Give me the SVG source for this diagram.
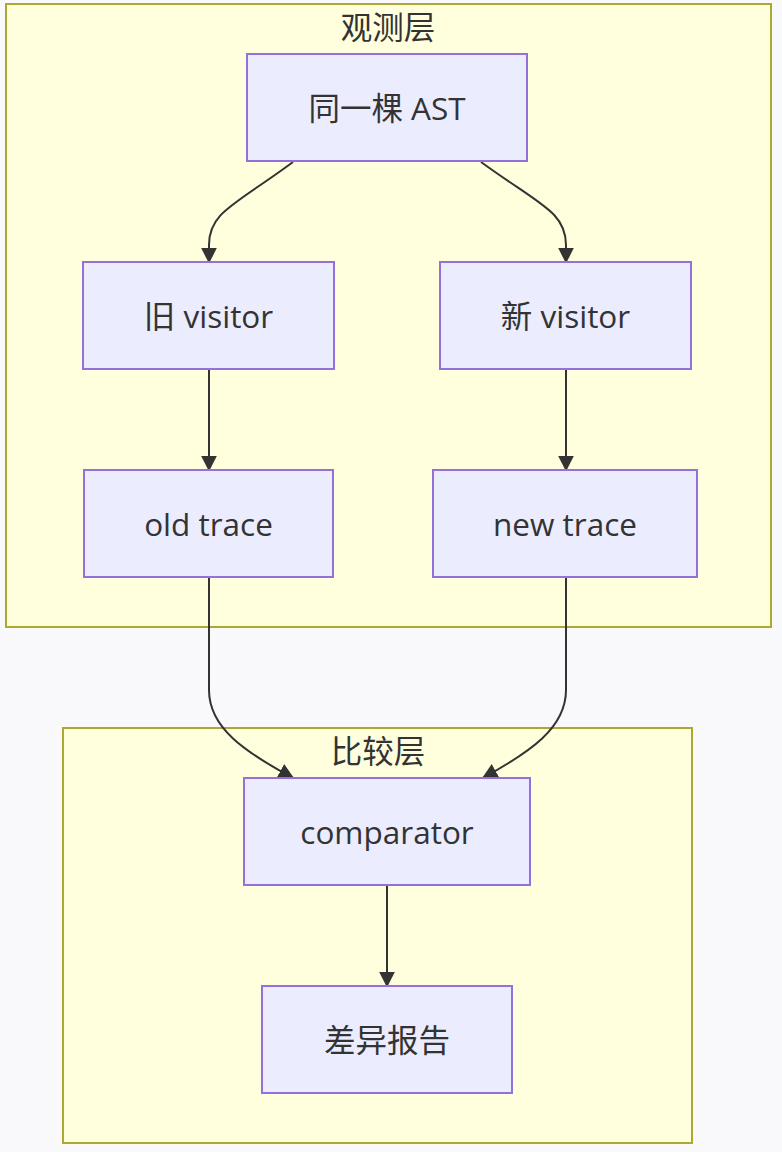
<svg xmlns="http://www.w3.org/2000/svg" width="782" height="1152" viewBox="0 0 782 1152">
<defs>
<style>
.cluster{fill:#ffffde;stroke:#aaaa33;stroke-width:2}
.node{fill:#ececff;stroke:#9370db;stroke-width:2}
.lbl{font-family:"Open Sans","Noto Sans CJK SC",sans-serif;font-size:31.5px;fill:#333333;text-anchor:middle;dominant-baseline:central}
.edge{fill:none;stroke:#333333;stroke-width:2}
</style>
<marker id="arrow" viewBox="0 0 10 10" refX="9" refY="5" markerUnits="userSpaceOnUse" markerWidth="16" markerHeight="16" orient="auto">
<path d="M0,0 L10,5 L0,10 z" fill="#333333"/>
</marker>
</defs>
<rect x="0" y="0" width="782" height="1152" fill="#f9f8fb"/>
<g id="cluster-observe">
<rect class="cluster" x="6" y="4" width="765" height="623"/>
<text class="lbl" x="388" y="26">观测层</text>
</g>
<g id="cluster-compare">
<rect class="cluster" x="63" y="728" width="629" height="415"/>
<text class="lbl" x="378" y="750">比较层</text>
</g>
<g id="connectors">
<path class="edge" d="M293,162 C235,205 209,212 209,245 L209,262" marker-end="url(#arrow)"/>
<path class="edge" d="M481,162 C540,205 566,212 566,245 L566,262" marker-end="url(#arrow)"/>
<path class="edge" d="M209,370 L209,470" marker-end="url(#arrow)"/>
<path class="edge" d="M566,370 L566,470" marker-end="url(#arrow)"/>
<path class="edge" d="M209,578 L209,690 C209,728 245,752 293,778" marker-end="url(#arrow)"/>
<path class="edge" d="M566,578 L566,690 C566,728 530,752 483,778" marker-end="url(#arrow)"/>
<path class="edge" d="M387,886 L387,986" marker-end="url(#arrow)"/>
</g>
<g id="node-ast">
<rect class="node" x="247" y="54" width="280" height="107"/>
<text class="lbl" x="387" y="107">同一棵 AST</text>
</g>
<g id="node-old-visitor">
<rect class="node" x="83" y="262" width="251" height="107"/>
<text class="lbl" x="208.5" y="315">旧 visitor</text>
</g>
<g id="node-new-visitor">
<rect class="node" x="440" y="262" width="251" height="107"/>
<text class="lbl" x="565.5" y="315">新 visitor</text>
</g>
<g id="node-old-trace">
<rect class="node" x="84" y="470" width="249" height="107"/>
<text class="lbl" x="208.5" y="523">old trace</text>
</g>
<g id="node-new-trace">
<rect class="node" x="433" y="470" width="264" height="107"/>
<text class="lbl" x="565" y="523">new trace</text>
</g>
<g id="node-comparator">
<rect class="node" x="244" y="778" width="286" height="107"/>
<text class="lbl" x="387" y="831">comparator</text>
</g>
<g id="node-report">
<rect class="node" x="262" y="986" width="250" height="107"/>
<text class="lbl" x="387" y="1039">差异报告</text>
</g>
</svg>
